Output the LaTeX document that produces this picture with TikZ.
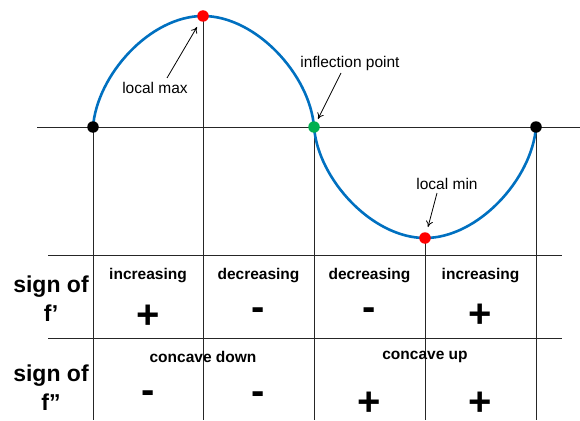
\documentclass[tikz,border=0pt]{standalone}
\usepackage{fontspec}
\setmainfont{Liberation Sans}
\usetikzlibrary{arrows.meta}
\definecolor{curveblue}{RGB}{0,112,192}
\definecolor{dotgreen}{RGB}{0,176,80}
\definecolor{dotred}{RGB}{255,0,0}
\tikzset{
  gridline/.style={draw=black!85, line width=0.9pt},
  dotnode/.style={circle, inner sep=0pt, minimum size=11.5pt, fill=#1},
  lbl/.style={font=\fontsize{15.5}{18}\selectfont, inner sep=0pt},
  head/.style={font=\bfseries\fontsize{15.5}{18}\selectfont, inner sep=0pt},
  sgn/.style={font=\bfseries\fontsize{40}{40}\selectfont, inner sep=0pt},
  rowlbl/.style={font=\bfseries\fontsize{23}{29}\selectfont, align=center, inner sep=0pt},
  pointer/.style={draw=black, line width=0.8pt, -{To[length=6pt,width=7pt]}},
}
\begin{document}
\begin{tikzpicture}[x=1pt,y=-1pt]
\useasboundingbox (0,0) rectangle (580,420);
% axis
\coordinate (axL) at (37,127);
\coordinate (axR) at (580,127);
\draw[gridline] (axL) -- (axR);
% table lines
\coordinate (h1L) at (48,255); \coordinate (h1R) at (562,255);
\coordinate (h2L) at (48,338); \coordinate (h2R) at (562,338);
\draw[gridline] (h1L) -- (h1R);
\draw[gridline] (h2L) -- (h2R);
% key points
\coordinate (p0) at (93,127);
\coordinate (pmax) at (203,16);
\coordinate (pinf) at (314,127);
\coordinate (pmin) at (425,238);
\coordinate (p4) at (536,127);
\coordinate (b0) at (93,420);
\coordinate (bmax) at (203,420);
\coordinate (binf) at (314,420);
\coordinate (bmin) at (425,420);
\coordinate (b4) at (536,420);
\draw[gridline] (p0) -- (b0);
\draw[gridline] (pmax) -- (bmax);
\draw[gridline] (pinf) -- (binf);
\draw[gridline] (pmin) -- (bmin);
\draw[gridline] (p4) -- (b4);
% curve
\draw[curveblue, line width=2.6pt]
  (p0) .. controls (97,75) and (150,16) .. (pmax)
       .. controls (256,16) and (310,75) .. (pinf)
       .. controls (318,179) and (372,238) .. (pmin)
       .. controls (478,238) and (532,179) .. (p4);
% dots
\node[dotnode=black] (d0) at (p0) {};
\node[dotnode=dotred] (dmax) at (pmax) {};
\node[dotnode=dotgreen] (dinf) at (pinf) {};
\node[dotnode=dotred] (dmin) at (pmin) {};
\node[dotnode=black] (d4) at (p4) {};
% annotations
\node[lbl] (lmax) at (155,88) {local max};
\node[lbl] (linf) at (350,63) {inflection point};
\node[lbl] (lmin) at (447,184) {local min};
\coordinate (amax) at (197,27);
\coordinate (ainf) at (318,119);
\coordinate (amin) at (428,227);
\draw[pointer] (167,78) -- (amax);
\draw[pointer] (341,73) -- (ainf);
\draw[pointer] (437,193) -- (amin);
% row labels
\node[rowlbl] (r1) at (51,299) {sign of\\f’};
\node[rowlbl] (r2) at (51,388) {sign of\\f”};
% row 1
\node[head] (t11) at (148,276) {increasing};
\node[head] (t12) at (258.5,276) {decreasing};
\node[head] (t13) at (369.5,276) {decreasing};
\node[head] (t14) at (480.5,276) {increasing};
\node[sgn] (s11) at (148,317) {+};
\node[sgn] (s12) at (258.5,314) {-};
\node[sgn] (s13) at (369.5,314) {-};
\node[sgn] (s14) at (480.5,316) {+};
% row 2
\node[head] (t21) at (203,357) {concave down};
\node[head] (t22) at (425,357) {concave up};
\node[sgn] (s21) at (148,397) {-};
\node[sgn] (s22) at (258.5,398) {-};
\node[sgn] (s23) at (369.5,404) {+};
\node[sgn] (s24) at (480.5,404) {+};
\end{tikzpicture}
\end{document}
